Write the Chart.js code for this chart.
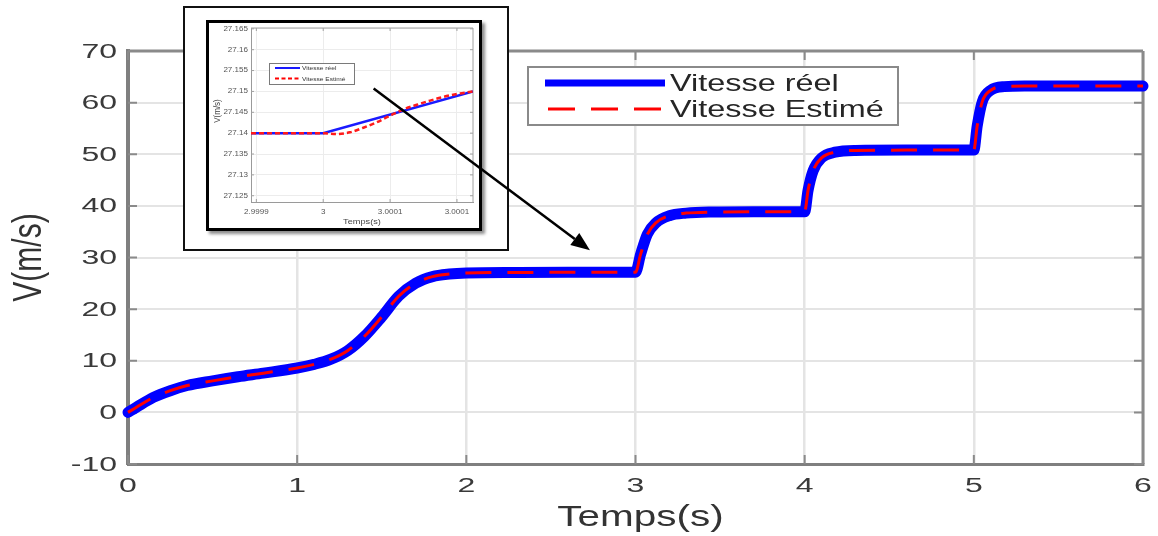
<!DOCTYPE html>
<html>
<head>
<meta charset="utf-8">
<script src="https://cdn.jsdelivr.net/npm/chart.js@4.4.1/dist/chart.umd.min.js"></script>
<style>
  html, body { margin: 0; padding: 0; background: #ffffff; }
  #wrap { position: relative; width: 1158px; height: 536px; overflow: hidden; }
  #main { position: absolute; left: 0; top: 0; }
  #zoomOuter {
    position: absolute; left: 183px; top: 6px; width: 326px; height: 245px;
    box-sizing: border-box; border: 2px solid #111; background: #fff;
  }
  #zoomFrame {
    position: absolute; left: 206px; top: 20px; width: 276px; height: 211px;
    box-sizing: border-box; border: 3px solid #000; background: #fff;
    box-shadow: 3px 3px 3px rgba(0,0,0,0.45);
  }
  #zoom { position: absolute; left: 0; top: 0; }
  #overlay { position: absolute; left: 0; top: 0; pointer-events: none; }
</style>
</head>
<body>
<div id="wrap">
  <canvas id="main" width="1158" height="536"></canvas>
  <div id="zoomOuter"></div>
  <div id="zoomFrame"><canvas id="zoom" width="270" height="205"></canvas></div>
  <canvas id="overlay" width="1158" height="536"></canvas>
</div>
<script>
// ---- Vitesse du véhicule : valeurs réelles et estimées ----
const temps = [0, 0.05, 0.15, 0.25, 0.35, 0.5, 0.65, 0.8, 1.0, 1.1, 1.2, 1.3, 1.4, 1.5, 1.6, 1.7, 1.8, 1.9, 2.0, 2.3, 2.6,
  3.0, 3.03, 3.07, 3.12, 3.2, 3.3, 3.45, 3.7, 4.0, 4.02, 4.05, 4.1, 4.18, 4.3, 4.6,
  5.0, 5.02, 5.05, 5.1, 5.18, 5.3, 5.6, 6.0];
const vitesseReelle = [0, 1.0, 2.9, 4.2, 5.2, 6.1, 6.9, 7.6, 8.6, 9.3, 10.3, 12.0, 14.8, 18.5, 22.5, 25.0, 26.3, 26.8, 27.0, 27.1, 27.14,
  27.14, 30.6, 34.5, 36.7, 38.1, 38.6, 38.8, 38.85, 38.85, 43.0, 46.8, 49.3, 50.4, 50.75, 50.8,
  50.8, 55.5, 60.2, 62.4, 63.1, 63.2, 63.2, 63.2];
const vitesseEstimee = [0, 1.0, 2.9, 4.2, 5.2, 6.1, 6.9, 7.6, 8.6, 9.3, 10.3, 12.0, 14.8, 18.5, 22.5, 25.0, 26.3, 26.8, 27.0, 27.1, 27.14,
  27.14, 30.6, 34.5, 36.7, 38.1, 38.6, 38.8, 38.85, 38.85, 43.0, 46.8, 49.3, 50.4, 50.75, 50.8,
  50.8, 55.5, 60.2, 62.4, 63.1, 63.2, 63.2, 63.2];
const xTicks = [0, 1, 2, 3, 4, 5, 6];
const yTicks = [-10, 0, 10, 20, 30, 40, 50, 60, 70];
const seriesLabels = ['Vitesse réel', 'Vitesse Estimé'];

// ---- Agrandissement autour de t = 3 s ----
const zoomTempsReel = [2.99994, 3.0, 3.000112];
const zoomReel = [27.14, 27.14, 27.15];
const zoomTempsEst = [2.99994, 3.0, 3.00001, 3.00002, 3.00003, 3.00004, 3.00005, 3.00006, 3.00007, 3.00008, 3.00009, 3.0001, 3.000112];
const zoomEst = [27.14, 27.14, 27.1398, 27.1402, 27.1413, 27.1426, 27.1442, 27.1457, 27.1468, 27.1478, 27.1487, 27.1494, 27.15];
const zoomXTicks = [2.99995, 3.0, 3.00005, 3.0001];
const zoomXTickLabels = ['2.9999', '3', '3.0001', '3.0001'];
const zoomYTicks = [27.125, 27.13, 27.135, 27.14, 27.145, 27.15, 27.155, 27.16, 27.165];
const zoomYTickLabels = ['27.125', '27.13', '27.135', '27.14', '27.145', '27.15', '27.155', '27.16', '27.165'];

// Flèche : de l'encart (coordonnées de l'encart) vers la courbe principale
const arrowFrom = { x: 3.0000377, y: 27.1507 };
const arrowTo = { x: 2.731, y: 31.4 };

const FONT = '"Liberation Sans", Arial, Helvetica, sans-serif';

function drawText(ctx, text, x, y, o) {
  ctx.save();
  ctx.translate(x, y);
  ctx.scale(o.stretch || 1, 1);
  if (o.rotate) ctx.rotate(o.rotate);
  ctx.font = o.font;
  ctx.fillStyle = o.color;
  ctx.textAlign = o.align || 'center';
  ctx.textBaseline = o.baseline || 'middle';
  ctx.fillText(text, 0, 0);
  ctx.restore();
}

function pts(xs, ys) { return xs.map((x, i) => ({ x: x, y: ys[i] })); }

// Axes en boîte avec graduations vers l'intérieur
function boxPlugin(cfg) {
  return {
    id: 'box',
    beforeDatasetsDraw(chart) {
      const { ctx, chartArea: a, scales } = chart;
      ctx.save();
      ctx.strokeStyle = cfg.color;
      ctx.lineWidth = cfg.width;
      ctx.beginPath();
      ctx.moveTo(a.left, a.top); ctx.lineTo(a.right, a.top);
      ctx.moveTo(a.right, a.top); ctx.lineTo(a.right, a.bottom);
      ctx.stroke();
      ctx.lineWidth = cfg.tickWidth;
      ctx.beginPath();
      scales.x.ticks.forEach(t => {
        const px = scales.x.getPixelForValue(t.value);
        ctx.moveTo(px, a.bottom); ctx.lineTo(px, a.bottom - cfg.tickLen);
        ctx.moveTo(px, a.top); ctx.lineTo(px, a.top + cfg.tickLen);
      });
      scales.y.ticks.forEach(t => {
        const py = scales.y.getPixelForValue(t.value);
        ctx.moveTo(a.left, py); ctx.lineTo(a.left + cfg.tickLen, py);
        ctx.moveTo(a.right, py); ctx.lineTo(a.right - cfg.tickLen, py);
      });
      ctx.stroke();
      ctx.restore();
    }
  };
}

// ---------- Graphique principal ----------
const mainLabels = {
  id: 'mainLabels',
  afterDatasetsDraw(chart) {
    const { ctx, chartArea: a, scales } = chart;
    const tick = { font: '20px ' + FONT, color: '#3a3a3a', stretch: 1.6 };
    scales.y.ticks.forEach(t => {
      drawText(ctx, String(t.value), a.left - 11, scales.y.getPixelForValue(t.value) + 1, Object.assign({ align: 'right' }, tick));
    });
    scales.x.ticks.forEach(t => {
      drawText(ctx, String(t.value), scales.x.getPixelForValue(t.value), a.bottom + 22, tick);
    });
    const title = { font: '30px ' + FONT, color: '#333333', stretch: 1.35 };
    drawText(ctx, 'Temps(s)', (a.left + a.right) / 2 + 5, a.bottom + 54, title);
    drawText(ctx, 'V(m/s)', 30, (a.top + a.bottom) / 2 + 0, Object.assign({ rotate: -Math.PI / 2 }, title));

    // Légende
    const lx = a.left + 400, ly = a.top + 16;
    ctx.save();
    ctx.fillStyle = '#ffffff';
    ctx.strokeStyle = '#8a8a8a';
    ctx.lineWidth = 2;
    ctx.fillRect(lx, ly, 370, 58);
    ctx.strokeRect(lx, ly, 370, 58);
    ctx.lineCap = 'butt';
    ctx.strokeStyle = '#0000ff';
    ctx.lineWidth = 7;
    ctx.beginPath(); ctx.moveTo(lx + 17, ly + 16); ctx.lineTo(lx + 137, ly + 16); ctx.stroke();
    ctx.strokeStyle = '#ff0000';
    ctx.lineWidth = 3;
    ctx.setLineDash([27, 16]);
    ctx.beginPath(); ctx.moveTo(lx + 20, ly + 42); ctx.lineTo(lx + 134, ly + 42); ctx.stroke();
    ctx.restore();
    const lg = { font: '24px ' + FONT, color: '#262626', stretch: 1.35, align: 'left' };
    drawText(ctx, seriesLabels[0], lx + 142, ly + 17, lg);
    drawText(ctx, seriesLabels[1], lx + 142, ly + 43, lg);
  }
};

const mainChart = new Chart(document.getElementById('main'), {
  type: 'line',
  data: {
    datasets: [
      {
        label: seriesLabels[0], data: pts(temps, vitesseReelle), order: 2,
        borderColor: '#0000ff', borderWidth: 11, pointRadius: 0,
        cubicInterpolationMode: 'monotone', borderCapStyle: 'round', borderJoinStyle: 'round', clip: false
      },
      {
        label: seriesLabels[1], data: pts(temps, vitesseEstimee), order: 1,
        borderColor: '#ff0000', borderWidth: 3, borderDash: [26, 16], pointRadius: 0,
        cubicInterpolationMode: 'monotone', clip: false
      }
    ]
  },
  options: {
    responsive: false, animation: false, devicePixelRatio: 1,
    layout: { padding: { left: 0, top: 51, right: 15, bottom: 0 } },
    plugins: { legend: { display: false }, tooltip: { enabled: false } },
    scales: {
      x: {
        type: 'linear', min: 0, max: 6,
        afterBuildTicks: s => { s.ticks = xTicks.map(v => ({ value: v })); },
        afterFit: s => { s.height = 72; },
        ticks: { display: false },
        grid: { color: '#e4e4e4', lineWidth: 2.5, drawTicks: false },
        border: { display: true, color: '#7f7f7f', width: 3 }
      },
      y: {
        type: 'linear', min: -10, max: 70,
        afterBuildTicks: s => { s.ticks = yTicks.map(v => ({ value: v })); },
        afterFit: s => { s.width = 128; },
        ticks: { display: false },
        grid: { color: '#e4e4e4', lineWidth: 2, drawTicks: false },
        border: { display: true, color: '#7f7f7f', width: 4 }
      }
    }
  },
  plugins: [boxPlugin({ color: '#8a8a8a', width: 3, tickWidth: 2, tickLen: 9 }), mainLabels]
});

// ---------- Encart ----------
const zoomLabels = {
  id: 'zoomLabels',
  afterDatasetsDraw(chart) {
    const { ctx, chartArea: a, scales } = chart;
    const tick = { font: '7px ' + FONT, color: '#555555', stretch: 1.15 };
    scales.y.ticks.forEach((t, i) => {
      drawText(ctx, zoomYTickLabels[i], a.left - 3, scales.y.getPixelForValue(t.value), Object.assign({ align: 'right' }, tick));
    });
    scales.x.ticks.forEach((t, i) => {
      drawText(ctx, zoomXTickLabels[i], scales.x.getPixelForValue(t.value), a.bottom + 10, tick);
    });
    const title = { font: '8px ' + FONT, color: '#444444', stretch: 1.15 };
    drawText(ctx, 'Temps(s)', (a.left + a.right) / 2, a.bottom + 20, title);
    drawText(ctx, 'V(m/s)', 8, (a.top + a.bottom) / 2 - 4, Object.assign({ rotate: -Math.PI / 2 }, title));

    // Légende de l'encart
    const lx = a.left + 18, ly = a.top + 35;
    ctx.save();
    ctx.fillStyle = '#ffffff';
    ctx.strokeStyle = '#7a7a7a';
    ctx.lineWidth = 1;
    ctx.fillRect(lx, ly, 85, 21);
    ctx.strokeRect(lx + 0.5, ly + 0.5, 85, 21);
    ctx.strokeStyle = '#0000ff';
    ctx.lineWidth = 1.8;
    ctx.beginPath(); ctx.moveTo(lx + 6, ly + 5); ctx.lineTo(lx + 31, ly + 5); ctx.stroke();
    ctx.strokeStyle = '#ff0000';
    ctx.setLineDash([4, 2.5]);
    ctx.beginPath(); ctx.moveTo(lx + 6, ly + 15.5); ctx.lineTo(lx + 31, ly + 15.5); ctx.stroke();
    ctx.restore();
    const lg = { font: '6px ' + FONT, color: '#333333', stretch: 1.1, align: 'left' };
    drawText(ctx, seriesLabels[0], lx + 33, ly + 5.5, lg);
    drawText(ctx, seriesLabels[1], lx + 33, ly + 16, lg);
  }
};

const zoomChart = new Chart(document.getElementById('zoom'), {
  type: 'line',
  data: {
    datasets: [
      {
        label: seriesLabels[0], data: pts(zoomTempsReel, zoomReel), order: 2,
        borderColor: '#1a1aff', borderWidth: 2.5, pointRadius: 0, tension: 0
      },
      {
        label: seriesLabels[1], data: pts(zoomTempsEst, zoomEst), order: 1,
        borderColor: '#ff1a1a', borderWidth: 2.5, borderDash: [5, 3], pointRadius: 0,
        cubicInterpolationMode: 'monotone'
      }
    ]
  },
  options: {
    responsive: false, animation: false, devicePixelRatio: 1,
    layout: { padding: { left: 0, top: 5, right: 6, bottom: 0 } },
    plugins: { legend: { display: false }, tooltip: { enabled: false } },
    scales: {
      x: {
        type: 'linear', min: 2.999946, max: 3.000112,
        afterBuildTicks: s => { s.ticks = zoomXTicks.map(v => ({ value: v })); },
        afterFit: s => { s.height = 26; },
        ticks: { display: false },
        grid: { color: '#ececec', lineWidth: 1, drawTicks: false },
        border: { display: true, color: '#9a9a9a', width: 1 }
      },
      y: {
        type: 'linear', min: 27.1235, max: 27.1652,
        afterBuildTicks: s => { s.ticks = zoomYTicks.map(v => ({ value: v })); },
        afterFit: s => { s.width = 42; },
        ticks: { display: false },
        grid: { color: '#ececec', lineWidth: 1, drawTicks: false },
        border: { display: true, color: '#9a9a9a', width: 1 }
      }
    }
  },
  plugins: [boxPlugin({ color: '#a0a0a0', width: 1, tickWidth: 1, tickLen: 3 }), zoomLabels]
});

// ---------- Flèche ----------
(function drawArrow() {
  const ov = document.getElementById('overlay');
  const ctx = ov.getContext('2d');
  const zoomCanvas = document.getElementById('zoom');
  const wrapRect = document.getElementById('wrap').getBoundingClientRect();
  const zr = zoomCanvas.getBoundingClientRect();
  const x0 = zr.left - wrapRect.left + zoomChart.scales.x.getPixelForValue(arrowFrom.x);
  const y0 = zr.top - wrapRect.top + zoomChart.scales.y.getPixelForValue(arrowFrom.y);
  const x1 = mainChart.scales.x.getPixelForValue(arrowTo.x);
  const y1 = mainChart.scales.y.getPixelForValue(arrowTo.y);
  const ang = Math.atan2(y1 - y0, x1 - x0);
  const headLen = 19, headHalf = 7.5;
  const bx = x1 - headLen * Math.cos(ang), by = y1 - headLen * Math.sin(ang);
  ctx.strokeStyle = '#000';
  ctx.lineWidth = 2.5;
  ctx.beginPath(); ctx.moveTo(x0, y0); ctx.lineTo(bx, by); ctx.stroke();
  ctx.fillStyle = '#000';
  ctx.beginPath();
  ctx.moveTo(x1, y1);
  ctx.lineTo(bx + headHalf * Math.sin(ang), by - headHalf * Math.cos(ang));
  ctx.lineTo(bx - headHalf * Math.sin(ang), by + headHalf * Math.cos(ang));
  ctx.closePath();
  ctx.fill();
})();
</script>
</body>
</html>
